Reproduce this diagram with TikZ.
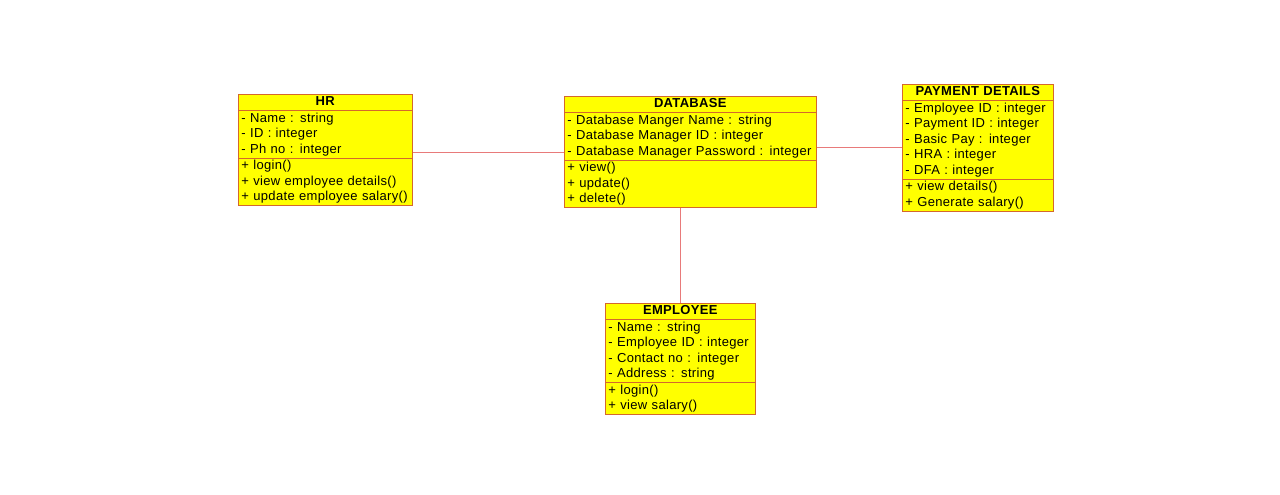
\documentclass[tikz,border=0pt]{standalone}
\usepackage{fontspec}
\setmainfont{Liberation Sans}[LetterSpace=2.5]
\usetikzlibrary{shapes.multipart}

\definecolor{umlyellow}{RGB}{255,255,0}
\definecolor{boxline}{RGB}{212,104,44}
\definecolor{linkred}{RGB}{232,122,122}

\tikzset{
  umlbox/.style={rectangle split, rectangle split parts=3, draw=boxline, fill=umlyellow,
    line width=0.9pt, inner xsep=3pt, inner ysep=0pt, align=left, anchor=north west,
    font=\fontsize{13}{15.5}\selectfont},
  link/.style={draw=linkred, line width=0.9pt}
}
\newcommand{\umltitle}[1]{\hfill\strut\textbf{#1}\hfill\null}

\begin{document}
\begin{tikzpicture}[x=1pt,y=1pt]
\useasboundingbox (0,0) rectangle (1280,-495);

% classes
\node[umlbox, text width=168pt] (hr) at (238,-94) {\umltitle{HR}
  \nodepart{two}\strut- Name : string\\- ID : integer\\- Ph no : integer\strut
  \nodepart{three}\strut+ login()\\+ view employee details()\\+ update employee salary()\strut};

\node[umlbox, text width=246pt] (db) at (564,-96) {\umltitle{DATABASE}
  \nodepart{two}\strut- Database Manger Name : string\\- Database Manager ID : integer\\- Database Manager Password : integer\strut
  \nodepart{three}\strut+ view()\\+ update()\\+ delete()\strut};

\node[umlbox, text width=145pt] (pay) at (902,-84) {\umltitle{PAYMENT DETAILS}
  \nodepart{two}\strut- Employee ID : integer\\- Payment ID : integer\\- Basic Pay : integer\\- HRA : integer\\- DFA : integer\strut
  \nodepart{three}\strut+ view details()\\+ Generate salary()\strut};

\node[umlbox, text width=144pt] (emp) at (605,-303) {\umltitle{EMPLOYEE}
  \nodepart{two}\strut- Name : string\\- Employee ID : integer\\- Contact no : integer\\- Address : string\strut
  \nodepart{three}\strut+ login()\\+ view salary()\strut};

% links
\draw[link] (db.west) -- (db.west -| hr.east);
\draw[link] (db.east |- pay.west) -- (pay.west);
\draw[link] (emp.north) -- (emp.north |- db.south);
\end{tikzpicture}
\end{document}
